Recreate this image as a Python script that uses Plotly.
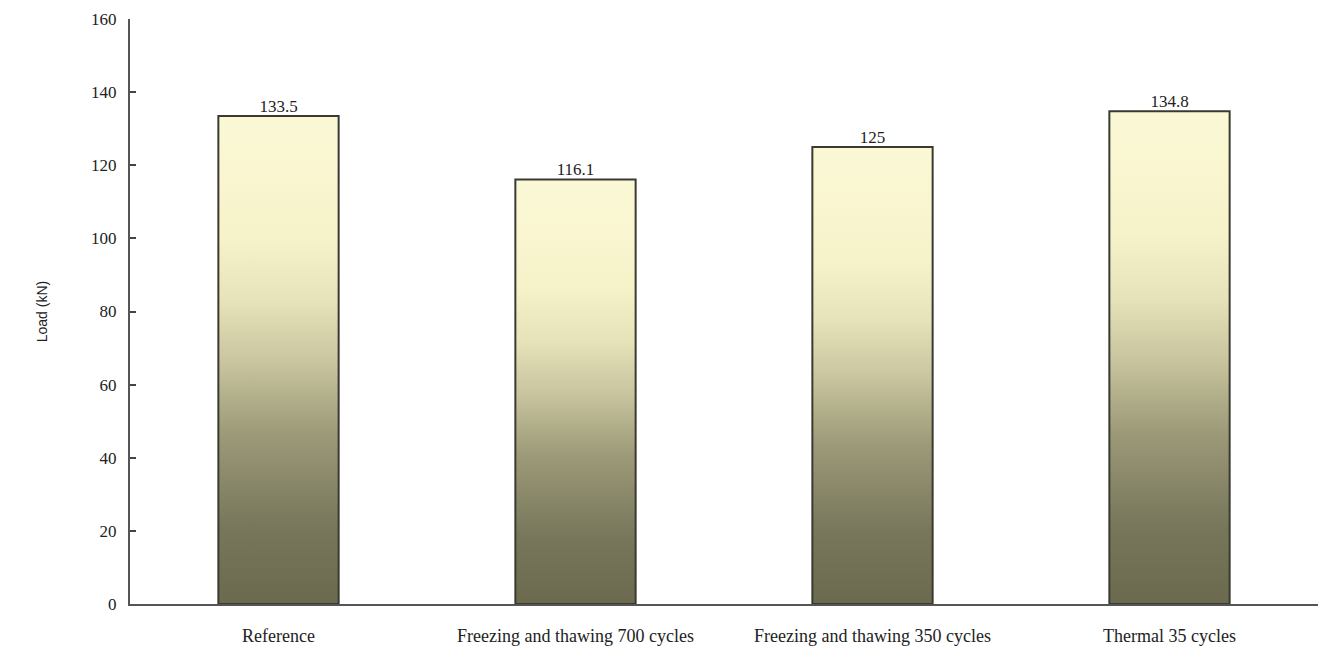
import plotly.graph_objects as go

# Peak load per exposure condition
categories = [
    "Reference",
    "Freezing and thawing 700 cycles",
    "Freezing and thawing 350 cycles",
    "Thermal 35 cycles",
]
loads = [133.5, 116.1, 125, 134.8]
load_labels = ["133.5", "116.1", "125", "134.8"]
y_ticks = [0, 20, 40, 60, 80, 100, 120, 140, 160]

BAR_WIDTH = 0.405
SERIF = "Liberation Serif, Times New Roman, serif"
TEXT = "#222222"

# vertical shading: dark olive at the base, pale cream towards the top
gradient = [
    [0.0, "#6c6a4e"],
    [0.15, "#77755a"],
    [0.35, "#9c9a78"],
    [0.5, "#c9c6a0"],
    [0.62, "#e6e3ba"],
    [0.75, "#f6f3ca"],
    [1.0, "#fbf8d6"],
]

fig = go.Figure()

for i, v in enumerate(loads):
    x0, x1 = i - BAR_WIDTH / 2, i + BAR_WIDTH / 2
    fig.add_trace(go.Scatter(
        x=[x0, x0, x1, x1, x0],
        y=[0, v, v, 0, 0],
        mode="lines",
        fill="toself",
        fillgradient=dict(type="vertical", colorscale=gradient, start=0, stop=v),
        line=dict(color="#3a3a32", width=2),
        hoverinfo="skip",
        showlegend=False,
    ))

fig.add_trace(go.Scatter(
    x=list(range(len(categories))),
    y=loads,
    mode="text",
    text=load_labels,
    textposition="top center",
    textfont=dict(family=SERIF, size=17, color=TEXT),
    showlegend=False,
    hoverinfo="skip",
))

fig.update_layout(
    width=1323,
    height=650,
    margin=dict(l=130, r=5, t=19, b=46),
    paper_bgcolor="white",
    plot_bgcolor="white",
    xaxis=dict(
        range=[-0.5, 3.5],
        tickmode="array",
        tickvals=list(range(len(categories))),
        ticktext=categories,
        ticks="",
        showgrid=False,
        zeroline=False,
        showline=True,
        linecolor="#555555",
        linewidth=2,
        ticklabelstandoff=14,
        tickfont=dict(family=SERIF, size=18, color=TEXT),
    ),
    yaxis=dict(
        range=[0, 160],
        tickmode="array",
        tickvals=y_ticks,
        ticks="inside",
        ticklen=6,
        tickwidth=2,
        tickcolor="#444444",
        showgrid=False,
        zeroline=False,
        showline=True,
        linecolor="#555555",
        linewidth=2,
        ticklabelstandoff=8,
        tickfont=dict(family=SERIF, size=17, color=TEXT),
        title=dict(
            text="Load (kN)",
            font=dict(family="Liberation Sans, Arial, sans-serif", size=14, color=TEXT),
            standoff=40,
        ),
    ),
)

fig.write_html("out.html")
